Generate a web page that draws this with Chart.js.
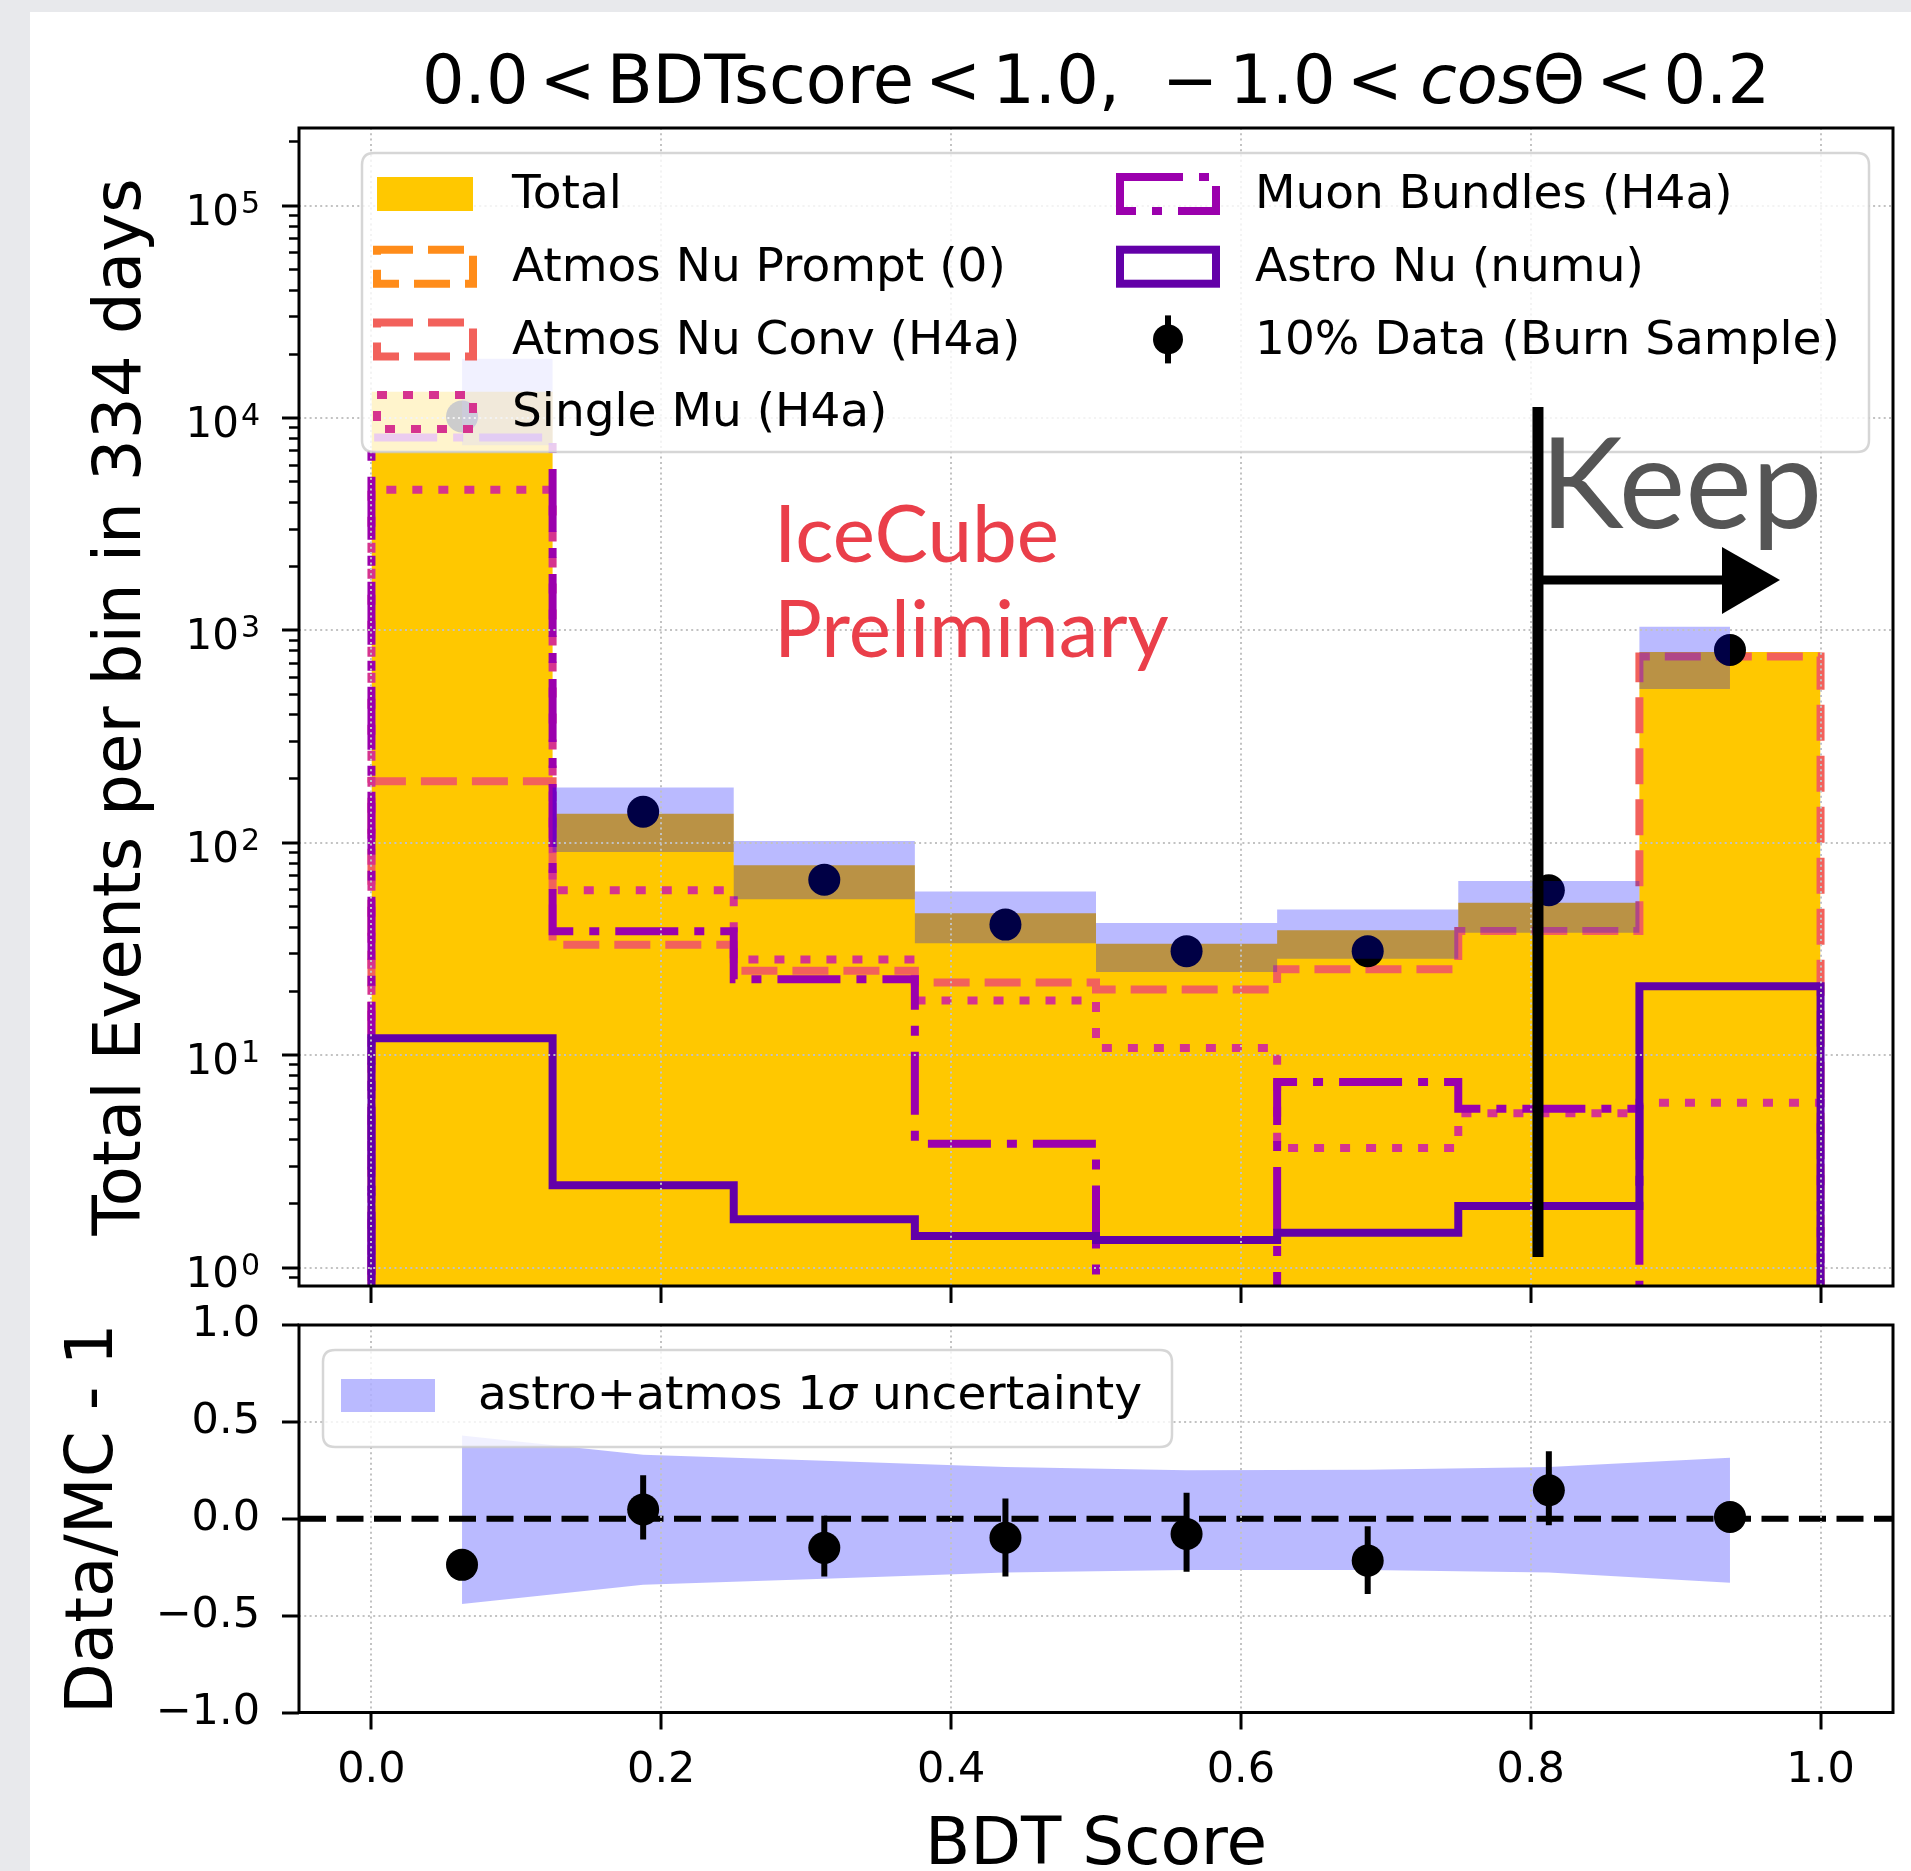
<!DOCTYPE html>
<html>
<head>
<meta charset="utf-8">
<script src="https://cdn.jsdelivr.net/npm/chart.js@4.4.1/dist/chart.umd.min.js"></script>
<style>
  html, body { margin: 0; padding: 0; }
  body { width: 1911px; height: 1871px; overflow: hidden; background: #e8e9ec; position: relative; }
  #sheet { position: absolute; left: 30px; top: 12px; width: 1881px; height: 1859px; background: #ffffff; }
  canvas { position: absolute; left: 0; }
  #mainCanvas { top: 0; }
  #ratioCanvas { top: 1300px; }
</style>
</head>
<body>
<div id="sheet"></div>
<canvas id="mainCanvas" width="1911" height="1310"></canvas>
<canvas id="ratioCanvas" width="1911" height="590"></canvas>
<script>
// ---- histogram binning (BDT score) ----
const binEdges   = [0, 0.125, 0.25, 0.375, 0.5, 0.625, 0.75, 0.875, 1.0];
const binCenters = [0.0625, 0.1875, 0.3125, 0.4375, 0.5625, 0.6875, 0.8125, 0.9375];

// ---- expected events per bin in 334 days ----
const totalMC     = [13300, 137, 78.5, 46.6, 33.5, 38.7, 52.2, 791];
const atmosPrompt = [0, 0, 0, 0, 0, 0, 0, 0];
const atmosConv   = [195, 33.1, 25.0, 22.0, 20.4, 25.4, 38.4, 753];
const singleMu    = [4600, 59.8, 28.2, 18.1, 10.8, 3.66, 5.33, 5.97];
const muonBundles = [8100, 38.3, 22.8, 3.83, 0, 7.48, 5.6, 0];
const astroNu     = [12.0, 2.44, 1.69, 1.41, 1.35, 1.46, 1.95, 21.1];

// ---- 10% burn sample ----
const burnData    = [10160, 140, 67, 41.2, 30.9, 30.9, 59.8, 809];

// ---- Data/MC - 1 with error bars ----
const ratio        = [-0.238, 0.048, -0.150, -0.098, -0.079, -0.216, 0.147, 0.009];
const ratioErrUp   = [0.012, 0.176, 0.165, 0.203, 0.213, 0.177, 0.202, 0.035];
const ratioErrDown = [0.012, 0.155, 0.148, 0.200, 0.195, 0.172, 0.181, 0.035];

// ---- astro+atmos 1 sigma band, relative to the total ----
const bandUp   = [0.43, 0.33, 0.30, 0.267, 0.25, 0.253, 0.267, 0.315];
const bandDown = [-0.44, -0.34, -0.31, -0.277, -0.264, -0.264, -0.277, -0.33];

// ---- axes ----
const xTicks          = [0, 0.2, 0.4, 0.6, 0.8, 1.0];
const xTickLabels     = ['0.0', '0.2', '0.4', '0.6', '0.8', '1.0'];
const yDecades        = [1, 10, 100, 1000, 10000, 100000];
const yDecadeBase     = '10';
const yDecadeExps     = ['0', '1', '2', '3', '4', '5'];
const yMinorSteps     = [2, 3, 4, 5, 6, 7, 8, 9];
const ratioTicks      = [-1, -0.5, 0, 0.5, 1];
const ratioTickLabels = ['−1.0', '−0.5', '0.0', '0.5', '1.0'];
const xMin = -0.05, xMax = 1.05;
const yMin = 0.819, yMax = 232000;

// ---- styling ----
const FONT = 'DejaVu Sans';
const cTotal = '#ffc800', cPrompt = '#ff8c1a', cConv = '#f2615b', cSingle = '#d6338f',
      cBundles = '#9b00ad', cAstro = '#6300a8', cBand = 'rgba(0,0,255,0.27)';
const dashDashed = [36, 15], dashDotted = [10, 16], dashDashDot = [63, 16, 10, 16];
const gridColor = '#c2c2c2', gridDash = [2, 3.3];
const FLOOR = 1e-3;   // empty bins sit far below the visible range

Chart.defaults.color = '#000';
Chart.defaults.font.family = FONT;

const yMinorTicks = [];
[0.1, 1, 10, 100, 1000, 10000, 100000].forEach(d => yMinorSteps.forEach(k => {
  const v = d * k; if (v > yMin && v < yMax) yMinorTicks.push(v);
}));

// step outline of a histogram, closed down to the bottom at both ends
function stepOutline(values) {
  const pts = [{ x: binEdges[0], y: FLOOR }];
  values.forEach((v, i) => pts.push({ x: binEdges[i], y: v > 0 ? v : FLOOR }));
  const last = values[values.length - 1];
  pts.push({ x: binEdges[binEdges.length - 1], y: last > 0 ? last : FLOOR });
  pts.push({ x: binEdges[binEdges.length - 1], y: FLOOR });
  return pts;
}
function filledSteps(values) {
  const pts = values.map((v, i) => ({ x: binEdges[i], y: v }));
  pts.push({ x: binEdges[binEdges.length - 1], y: values[values.length - 1] });
  return pts;
}
const atCenters = arr => arr.map((v, i) => ({ x: binCenters[i], y: v }));

function histLine(label, values, color, dash, order) {
  return { label, data: stepOutline(values), borderColor: color, borderWidth: 8, borderDash: dash,
           stepped: 'before', pointRadius: 0, fill: false, order, legendKind: 'outline' };
}

// fixed axis sizes; edge-label padding is not reserved
function fixSize(w, h) {
  return s => {
    if (w !== null) s.width = w;
    if (h !== null) s.height = h;
    s.paddingTop = 0; s.paddingBottom = 0; s.paddingLeft = 0; s.paddingRight = 0;
  };
}

// vertical error bars drawn right before their marker dataset
const errorBarPlugin = {
  id: 'errorBars',
  beforeDatasetDraw(chart, args) {
    const ds = chart.data.datasets[args.index];
    if (!ds.errLow) return;
    const { ctx, chartArea } = chart;
    const xs = chart.scales.x, ys = chart.scales[ds.yAxisID || 'y'];
    ctx.save();
    ctx.beginPath(); ctx.rect(chartArea.left, chartArea.top, chartArea.width, chartArea.height); ctx.clip();
    ctx.strokeStyle = '#000'; ctx.lineWidth = 6;
    ds.data.forEach((p, i) => {
      const x = xs.getPixelForValue(p.x);
      ctx.beginPath();
      ctx.moveTo(x, ys.getPixelForValue(p.y - ds.errLow[i]));
      ctx.lineTo(x, ys.getPixelForValue(p.y + ds.errHigh[i]));
      ctx.stroke();
    });
    ctx.restore();
  }
};

// axes frame on all four sides
const framePlugin = {
  id: 'frame',
  afterDraw(chart) {
    const { ctx, chartArea: a } = chart;
    ctx.save(); ctx.strokeStyle = '#000'; ctx.lineWidth = 3;
    ctx.strokeRect(a.left, a.top, a.width, a.height);
    ctx.restore();
  }
};

function roundRect(ctx, x, y, w, h, r) {
  ctx.beginPath();
  ctx.moveTo(x + r, y); ctx.lineTo(x + w - r, y); ctx.quadraticCurveTo(x + w, y, x + w, y + r);
  ctx.lineTo(x + w, y + h - r); ctx.quadraticCurveTo(x + w, y + h, x + w - r, y + h);
  ctx.lineTo(x + r, y + h); ctx.quadraticCurveTo(x, y + h, x, y + h - r);
  ctx.lineTo(x, y + r); ctx.quadraticCurveTo(x, y, x + r, y); ctx.closePath();
}
function legendFrame(ctx, x, y, w, h) {
  ctx.save();
  roundRect(ctx, x, y, w, h, 12);
  ctx.fillStyle = 'rgba(255,255,255,0.8)'; ctx.fill();
  ctx.strokeStyle = 'rgba(204,204,204,0.8)'; ctx.lineWidth = 2.5; ctx.stroke();
  ctx.restore();
}
function drawHandle(ctx, ds, x, yc) {
  const w = 96, h = 34;
  ctx.save();
  if (ds.legendKind === 'patch') {
    ctx.fillStyle = ds.backgroundColor; ctx.fillRect(x, yc - h / 2, w, h);
  } else if (ds.legendKind === 'outline') {
    ctx.strokeStyle = ds.borderColor; ctx.lineWidth = ds.borderWidth; ctx.setLineDash(ds.borderDash || []);
    ctx.strokeRect(x, yc - h / 2, w, h);
  } else if (ds.legendKind === 'marker') {
    const cx = x + w / 2;
    ctx.strokeStyle = '#000'; ctx.lineWidth = 6;
    ctx.beginPath(); ctx.moveTo(cx, yc - 24); ctx.lineTo(cx, yc + 24); ctx.stroke();
    ctx.fillStyle = '#000'; ctx.beginPath(); ctx.arc(cx, yc, 15, 0, Math.PI * 2); ctx.fill();
  }
  ctx.restore();
}

// decade labels 10^n with a raised exponent
const logLabels = {
  id: 'logLabels',
  afterDraw(chart) {
    const { ctx } = chart;
    const ys = chart.scales.y;
    const right = ys.right - 17 - 22;
    ctx.save();
    ctx.fillStyle = '#000'; ctx.textBaseline = 'alphabetic'; ctx.textAlign = 'left';
    ys.ticks.forEach((t, i) => {
      const y = ys.getPixelForValue(t.value);
      ctx.font = `30px ${FONT}`;
      const ew = ctx.measureText(yDecadeExps[i]).width;
      ctx.font = `42px ${FONT}`;
      const bw = ctx.measureText(yDecadeBase).width;
      const x0 = right - ew - bw - 2;
      ctx.fillText(yDecadeBase, x0, y + 19);
      ctx.font = `30px ${FONT}`;
      ctx.fillText(yDecadeExps[i], x0 + bw + 2, y + 7);
    });
    ctx.restore();
  }
};

// legend, title and annotations of the main panel
const mainDecor = {
  id: 'mainDecor',
  afterDraw(chart) {
    const { ctx, chartArea: a } = chart;
    const sets = chart.data.datasets;
    // legend (two columns)
    const lx = a.left + 63, ly = a.top + 25;
    legendFrame(ctx, lx, ly, 1507, 299);
    const cols = [['Total', 'Atmos Nu Prompt (0)', 'Atmos Nu Conv (H4a)', 'Single Mu (H4a)'],
                  ['Muon Bundles (H4a)', 'Astro Nu (numu)', '10% Data (Burn Sample)']];
    const colX = [lx + 15, lx + 758];
    ctx.save();
    ctx.font = `47px ${FONT}`; ctx.fillStyle = '#000'; ctx.textBaseline = 'middle';
    cols.forEach((names, c) => names.forEach((name, r) => {
      const ds = sets.find(d => d.label === name);
      const yc = ly + 41 + r * 72.7;
      drawHandle(ctx, ds, colX[c], yc);
      ctx.fillText(name, colX[c] + 135, yc + 2);
    }));
    ctx.restore();

    // title, with an italic "cos"
    ctx.save();
    ctx.fillStyle = '#000'; ctx.textBaseline = 'alphabetic';
    const reg = `67px ${FONT}`, ita = `italic 67px ${FONT}`;
    const tokens = [['0.0', reg, 11], ['<', reg, 11], ['BDTscore', reg, 11], ['<', reg, 11], ['1.0,', reg, 42],
                    ['−', reg, 11], ['1.0', reg, 11], ['<', reg, 17], ['cos', ita, 0], ['Θ', reg, 11],
                    ['<', reg, 11], ['0.2', reg, 0]];
    let total = 0;
    tokens.forEach(t => { ctx.font = t[1]; total += ctx.measureText(t[0]).width + t[2]; });
    let tx = (a.left + a.right) / 2 - total / 2;
    tokens.forEach(t => { ctx.font = t[1]; ctx.fillText(t[0], tx, 103); tx += ctx.measureText(t[0]).width + t[2]; });
    ctx.restore();

    // preliminary label
    ctx.save();
    ctx.fillStyle = '#ea3f4a'; ctx.font = `80px Lato`;
    ctx.fillText('IceCube', 774, 562);
    ctx.fillText('Preliminary', 774, 657);
    ctx.restore();

    // "Keep" cut marker
    const xs = chart.scales.x;
    const cx = xs.getPixelForValue(0.805);
    ctx.save();
    ctx.strokeStyle = '#000'; ctx.fillStyle = '#000'; ctx.lineCap = 'butt';
    ctx.lineWidth = 11;
    ctx.beginPath(); ctx.moveTo(cx, 407); ctx.lineTo(cx, 1257); ctx.stroke();
    ctx.lineWidth = 9;
    ctx.beginPath(); ctx.moveTo(cx, 580); ctx.lineTo(cx + 190, 580); ctx.stroke();
    ctx.beginPath(); ctx.moveTo(cx + 184, 547); ctx.lineTo(cx + 242, 580); ctx.lineTo(cx + 184, 614); ctx.closePath(); ctx.fill();
    ctx.fillStyle = '#555555'; ctx.font = `126px Lato`;
    ctx.fillText('Keep', cx + 2, 528);
    ctx.restore();
  }
};

const ratioDecor = {
  id: 'ratioDecor',
  afterDraw(chart) {
    const { ctx, chartArea: a } = chart;
    const lx = a.left + 24, ly = a.top + 25;
    legendFrame(ctx, lx, ly, 849, 97);
    ctx.save();
    ctx.fillStyle = cBand; ctx.fillRect(lx + 18, ly + 29, 94, 33);
    ctx.fillStyle = '#000'; ctx.textBaseline = 'middle';
    const yc = ly + 47;
    let tx = lx + 155;
    const parts = [['astro+atmos 1', `47px ${FONT}`], ['σ', `italic 47px ${FONT}`], [' uncertainty', `47px ${FONT}`]];
    parts.forEach(p => { ctx.font = p[1]; ctx.fillText(p[0], tx, yc); tx += ctx.measureText(p[0]).width; });
    ctx.restore();
  }
};

const gridCommon = { color: gridColor, lineWidth: 2, z: 1, drawTicks: true, tickLength: 17, tickWidth: 3, tickColor: '#000' };
const borderCommon = { display: false, dash: gridDash };

// ---------------- main panel ----------------
new Chart(document.getElementById('mainCanvas'), {
  type: 'line',
  data: {
    datasets: [
      { label: 'band high', data: atCenters(totalMC.map((t, i) => t * (1 + bandUp[i]))), stepped: 'middle',
        borderWidth: 0, pointRadius: 0, backgroundColor: cBand, fill: '+1', order: 0 },
      { label: 'band low', data: atCenters(totalMC.map((t, i) => t * (1 + bandDown[i]))), stepped: 'middle',
        borderWidth: 0, pointRadius: 0, fill: false, order: 0 },
      { label: '10% Data (Burn Sample)', data: atCenters(burnData), showLine: false, pointRadius: 16,
        pointBackgroundColor: '#000', pointBorderWidth: 0, order: 1, legendKind: 'marker' },
      histLine('Astro Nu (numu)', astroNu, cAstro, [], 2),
      histLine('Muon Bundles (H4a)', muonBundles, cBundles, dashDashDot, 3),
      histLine('Single Mu (H4a)', singleMu, cSingle, dashDotted, 4),
      histLine('Atmos Nu Conv (H4a)', atmosConv, cConv, dashDashed, 5),
      histLine('Atmos Nu Prompt (0)', atmosPrompt, cPrompt, dashDashed, 6),
      { label: 'Total', data: filledSteps(totalMC), stepped: 'before', borderWidth: 0, pointRadius: 0,
        backgroundColor: cTotal, fill: 'start', order: 10, legendKind: 'patch' }
    ]
  },
  options: {
    responsive: false, animation: false, devicePixelRatio: 1,
    layout: { padding: { left: 40, top: 128, right: 18, bottom: 0 } },
    plugins: { legend: { display: false }, tooltip: { enabled: false } },
    scales: {
      x: { type: 'linear', min: xMin, max: xMax,
           afterBuildTicks: s => { s.ticks = xTicks.map(v => ({ value: v })); },
           afterFit: fixSize(null, 24),
           ticks: { display: false, autoSkip: false },
           grid: gridCommon, border: borderCommon },
      y: { type: 'logarithmic', min: yMin, max: yMax, position: 'left', weight: 1,
           afterBuildTicks: s => { s.ticks = yDecades.map(v => ({ value: v })); },
           afterFit: fixSize(259, null),
           ticks: { display: false, autoSkip: false },
           grid: gridCommon, border: borderCommon,
           title: { display: true, text: 'Total Events per bin in 334 days', color: '#000',
                    font: { family: FONT, size: 66 }, padding: { top: 43, bottom: 0 } } },
      yMinor: { type: 'logarithmic', min: yMin, max: yMax, position: 'left', weight: 0,
           afterBuildTicks: s => { s.ticks = yMinorTicks.map(v => ({ value: v })); },
           afterFit: fixSize(0, null),
           ticks: { display: false, autoSkip: false },
           grid: { drawOnChartArea: false, drawTicks: true, tickLength: 10, tickWidth: 2.5, tickColor: '#000' },
           border: { display: false } }
    }
  },
  plugins: [framePlugin, logLabels, mainDecor]
});

// ---------------- ratio panel ----------------
new Chart(document.getElementById('ratioCanvas'), {
  type: 'line',
  data: {
    datasets: [
      { label: 'ratio', data: atCenters(ratio), showLine: false, pointRadius: 16,
        pointBackgroundColor: '#000', pointBorderWidth: 0, order: 0, errLow: ratioErrDown, errHigh: ratioErrUp },
      { label: 'zero', data: [{ x: xMin, y: 0 }, { x: xMax, y: 0 }], borderColor: '#000', borderWidth: 6,
        borderDash: [27, 10.5], pointRadius: 0, fill: false, order: 1 },
      { label: 'band high', data: atCenters(bandUp), borderWidth: 0, pointRadius: 0, tension: 0,
        backgroundColor: cBand, fill: '+1', order: 2 },
      { label: 'band low', data: atCenters(bandDown), borderWidth: 0, pointRadius: 0, tension: 0,
        fill: false, order: 2 }
    ]
  },
  options: {
    responsive: false, animation: false, devicePixelRatio: 1,
    layout: { padding: { left: 40, top: 25, right: 18, bottom: 0 } },
    plugins: { legend: { display: false }, tooltip: { enabled: false } },
    scales: {
      x: { type: 'linear', min: xMin, max: xMax,
           afterBuildTicks: s => { s.ticks = xTicks.map(v => ({ value: v })); },
           afterFit: fixSize(null, 177.5),
           ticks: { autoSkip: false, maxRotation: 0, padding: 16, color: '#000', font: { family: FONT, size: 43 },
                    callback: (v, i) => xTickLabels[i] },
           grid: gridCommon, border: borderCommon,
           title: { display: true, text: 'BDT Score', color: '#000', font: { family: FONT, size: 66 },
                    padding: { top: 0, bottom: 4 } } },
      y: { type: 'linear', min: -1, max: 1,
           afterBuildTicks: s => { s.ticks = ratioTicks.map(v => ({ value: v })); },
           afterFit: fixSize(259, null),
           ticks: { autoSkip: false, padding: 22, color: '#000', font: { family: FONT, size: 43 },
                    callback: (v, i) => ratioTickLabels[i] },
           grid: Object.assign({}, gridCommon, {
             // the dashed zero reference line replaces the grid line at 0
             color: c => (c.tick && c.tick.value === 0) ? 'rgba(0,0,0,0)' : gridColor }),
           border: borderCommon,
           title: { display: true, text: 'Data/MC - 1', color: '#000', font: { family: FONT, size: 66 },
                    padding: { top: 15, bottom: 0 } } }
    }
  },
  plugins: [errorBarPlugin, framePlugin, ratioDecor]
});
</script>
</body>
</html>
